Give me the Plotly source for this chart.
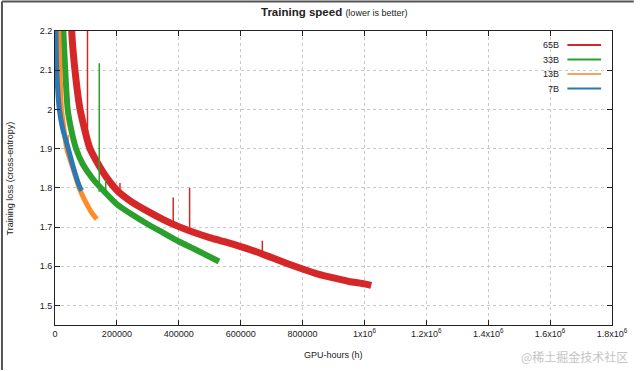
import plotly.graph_objects as go

# ---- data ----
models = ["65B", "33B", "13B", "7B"]
colors = {"65B": "#d62728", "33B": "#2ca02c", "13B": "#ff8c27", "7B": "#2b78b4"}
legend_colors = {"65B": "#d62728", "33B": "#2ca02c", "13B": "#f7a35c", "7B": "#2b78b4"}

hours_65b = [50000, 54000, 64500, 81000, 113000, 145000, 167000, 200000, 250000, 300000,
             350000, 400000, 450000, 500000, 550000, 600000, 650000, 700000, 750000, 800000,
             850000, 900000, 950000, 1000000, 1022000]
loss_65b = [2.35, 2.2, 2.1, 2.0, 1.9, 1.853, 1.826, 1.794, 1.763, 1.740,
            1.719, 1.701, 1.686, 1.673, 1.662, 1.650, 1.637, 1.622, 1.607, 1.593,
            1.580, 1.570, 1.561, 1.555, 1.551]

hours_33b = [24000, 27000, 33000, 41000, 52000, 68000, 90000, 120000, 150000, 200000,
             250000, 300000, 350000, 400000, 450000, 530000]
loss_33b = [2.3, 2.2, 2.1, 2.0, 1.95, 1.9, 1.86, 1.825, 1.798, 1.758,
            1.731, 1.707, 1.685, 1.663, 1.644, 1.612]

hours_13b = [10000, 12000, 16000, 21000, 29000, 38000, 58000, 78000, 92000, 107000, 120000, 135000]
loss_13b = [2.3, 2.2, 2.1, 2.0, 1.95, 1.9, 1.85, 1.8, 1.775, 1.752, 1.735, 1.72]

hours_7b = [1500, 3000, 5500, 14000, 25000, 43000, 60000, 81000, 87000]
loss_7b = [2.3, 2.2, 2.1, 2.0, 1.95, 1.9, 1.85, 1.8, 1.793]

# loss spikes (hours, base, top)
spike_hours_65b = [105000, 210000, 382000, 435000, 670000]
spike_base_65b = [1.895, 1.78, 1.70, 1.685, 1.628]
spike_top_65b = [2.3, 1.812, 1.775, 1.80, 1.665]

spike_hours_33b = [143000, 164000]
spike_base_33b = [1.79, 1.78]
spike_top_33b = [2.118, 1.82]

spike_hours_13b = [43000]
spike_base_13b = [1.90]
spike_top_13b = [1.935]

x_tickvals = [0, 200000, 400000, 600000, 800000, 1000000, 1200000, 1400000, 1600000, 1800000]
x_ticktext = ["0", "200000", "400000", "600000", "800000", "1x10<sup>6</sup>",
              "1.2x10<sup>6</sup>", "1.4x10<sup>6</sup>", "1.6x10<sup>6</sup>", "1.8x10<sup>6</sup>"]
y_tickvals = [1.5, 1.6, 1.7, 1.8, 1.9, 2.0, 2.1, 2.2]
y_ticktext = ["1.5", "1.6", "1.7", "1.8", "1.9", "2", "2.1", "2.2"]

series = {
    "65B": (hours_65b, loss_65b, spike_hours_65b, spike_base_65b, spike_top_65b, 7),
    "33B": (hours_33b, loss_33b, spike_hours_33b, spike_base_33b, spike_top_33b, 6),
    "13B": (hours_13b, loss_13b, spike_hours_13b, spike_base_13b, spike_top_13b, 5),
    "7B": (hours_7b, loss_7b, [], [], [], 5),
}

fig = go.Figure()
for m in models:
    hx, ly, sx, sb, st, w = series[m]
    fig.add_trace(go.Scatter(x=hx, y=ly, mode="lines", name=m,
                             line=dict(color=colors[m], width=w, shape="spline", smoothing=0.6),
                             showlegend=False))
    if sx:
        xs, ys = [], []
        for h, b, t in zip(sx, sb, st):
            xs += [h, h, None]
            ys += [b, t, None]
        fig.add_trace(go.Scatter(x=xs, y=ys, mode="lines", line=dict(color=colors[m], width=1.5),
                                 showlegend=False, hoverinfo="skip"))

# ---- layout ----
L, R, T, B = 55, 23, 31, 46
W, H = 640, 371
pw, ph = W - L - R, H - T - B

def px(xp):
    return (xp - L) / pw

def py(yp):
    return (H - B - yp) / ph

font = "Liberation Sans, Arial, sans-serif"
axis_common = dict(showline=True, linecolor="#222", linewidth=1, mirror="ticks",
                   ticks="inside", ticklen=5, tickcolor="#222",
                   showgrid=True, gridcolor="#c8c8c8", griddash="dot", gridwidth=1,
                   zeroline=False, tickfont=dict(size=9, color="#222", family=font))

fig.update_layout(
    width=W, height=H,
    margin=dict(l=L, r=R, t=T, b=B),
    paper_bgcolor="white", plot_bgcolor="white",
    showlegend=False,
    xaxis=dict(range=[0, 1800000], tickvals=x_tickvals, ticktext=x_ticktext, **axis_common),
    yaxis=dict(range=[1.45, 2.2], tickvals=y_tickvals, ticktext=y_ticktext, **axis_common),
)

ann = [
    dict(x=px(336), y=py(12), xref="paper", yref="paper", showarrow=False,
         text="<b>Training speed</b> <span style='font-size:9px'>(lower is better)</span>",
         font=dict(size=11.5, family=font, color="#222"), xanchor="center", yanchor="middle"),
    dict(x=px(10), y=0.5, xref="paper", yref="paper", showarrow=False, textangle=-90,
         text="Training loss (cross-entropy)", font=dict(size=9, family=font, color="#222"),
         xanchor="center", yanchor="middle"),
    dict(x=px(336), y=py(355), xref="paper", yref="paper", showarrow=False,
         text="GPU-hours (h)", font=dict(size=9, family=font, color="#222"),
         xanchor="center", yanchor="middle"),
    dict(x=px(635), y=py(356), xref="paper", yref="paper", showarrow=False,
         text="@稀土掘金技术社区", font=dict(size=12, family="Noto Sans CJK SC", color="#c4c4c4"),
         xanchor="right", yanchor="middle"),
]
shapes = []
leg_y = [45, 59.5, 74, 88.5]
for m, yy in zip(models, leg_y):
    ann.append(dict(x=px(566), y=py(yy), xref="paper", yref="paper", showarrow=False,
                    text=m, font=dict(size=9, family=font, color="#222"),
                    xanchor="right", yanchor="middle"))
    shapes.append(dict(type="line", xref="paper", yref="paper", x0=px(572), x1=px(606),
                       y0=py(yy), y1=py(yy), line=dict(color=legend_colors[m], width=2)))

# outer frame of screenshot (top and left edges)
shapes.append(dict(type="line", xref="paper", yref="paper", x0=px(1.5), x1=px(639),
                   y0=py(1.5), y1=py(1.5), line=dict(color="#555", width=2)))
shapes.append(dict(type="line", xref="paper", yref="paper", x0=px(1.5), x1=px(1.5),
                   y0=py(1.5), y1=py(370), line=dict(color="#555", width=2)))

fig.update_layout(annotations=ann, shapes=shapes)
fig.write_html("out.html", config={"displayModeBar": False},
               post_script="document.body.style.margin='0';document.body.style.overflow='hidden';")
